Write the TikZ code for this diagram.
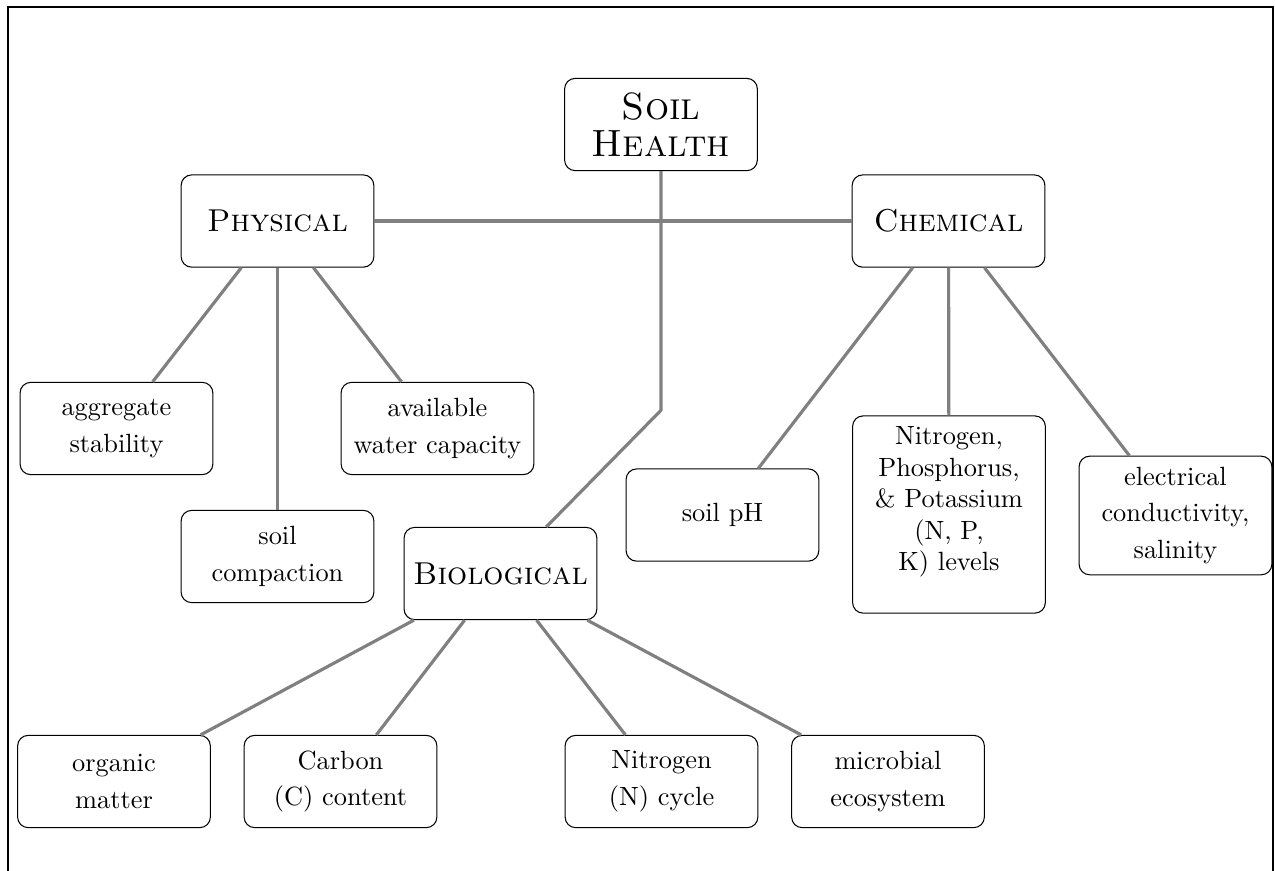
\documentclass[tikz,border=0pt]{standalone}
\usetikzlibrary{calc}
\begin{document}
\begin{tikzpicture}
    \tikzset{mainbox/.style={draw, rounded corners, minimum width=2.57cm,
        minimum height=1.23cm, align=center, font=\large\scshape},
      leafbox/.style={draw, rounded corners, minimum width=2.57cm,
        minimum height=1.23cm, text width=2.3cm, align=center, inner ysep=4pt},
      link/.style={very thick, gray}}
    \useasboundingbox (0,0) rectangle (17,-11.613);
    \draw[line width=0.75pt] (0.107,-0.093) rectangle (16.973,-12.5);
    \node[mainbox] (health) at (8.813,-1.66) {{\Large Soil}\\{\Large Health}};
    \node[mainbox] (phys) at (3.70,-2.947) {Physical};
    \node[mainbox] (chem) at (12.647,-2.947) {Chemical};
    \node[mainbox] (bio) at (6.673,-7.647) {Biological};
    \node[leafbox] (agg) at (1.553,-5.713) {aggregate\\[2pt]stability};
    \node[leafbox] (water) at (5.833,-5.713) {available\\[2pt]water capacity};
    \node[leafbox] (compact) at (3.70,-7.42) {soil\\[2pt]compaction};
    \node[leafbox] (ph) at (9.633,-6.867) {soil pH};
    \node[leafbox] (npk) at (12.653,-6.86) {Nitrogen,\\Phosphorus,\\\& Potassium\\(N, P,\\K) levels\\\mbox{}};
    \node[leafbox] (elec) at (15.673,-6.873) {electrical\\[2pt]conductivity,\\[2pt]salinity};
    \node[leafbox] (organic) at (1.52,-10.42) {organic\\[2pt]matter};
    \node[leafbox] (carbon) at (4.54,-10.42) {Carbon\\[2pt](C) content};
    \node[leafbox] (ncycle) at (8.82,-10.42) {Nitrogen\\[2pt](N) cycle};
    \node[leafbox] (microbial) at (11.84,-10.42) {microbial\\[2pt]ecosystem};
    \coordinate (bend) at ($(health) - (0,3.81)$);
    \draw[link] (health) -- (bend) -- (bio);
    \draw[link] (phys) -- (chem);
    \draw[link] (phys) -- (agg);
    \draw[link] (phys) -- (compact);
    \draw[link] (phys) -- (water);
    \draw[link] (chem) -- (ph);
    \draw[link] (chem) -- (npk);
    \draw[link] (chem) -- (elec);
    \draw[link] (bio) -- (organic);
    \draw[link] (bio) -- (carbon);
    \draw[link] (bio) -- (ncycle);
    \draw[link] (bio) -- (microbial);
  \end{tikzpicture}
\end{document}
